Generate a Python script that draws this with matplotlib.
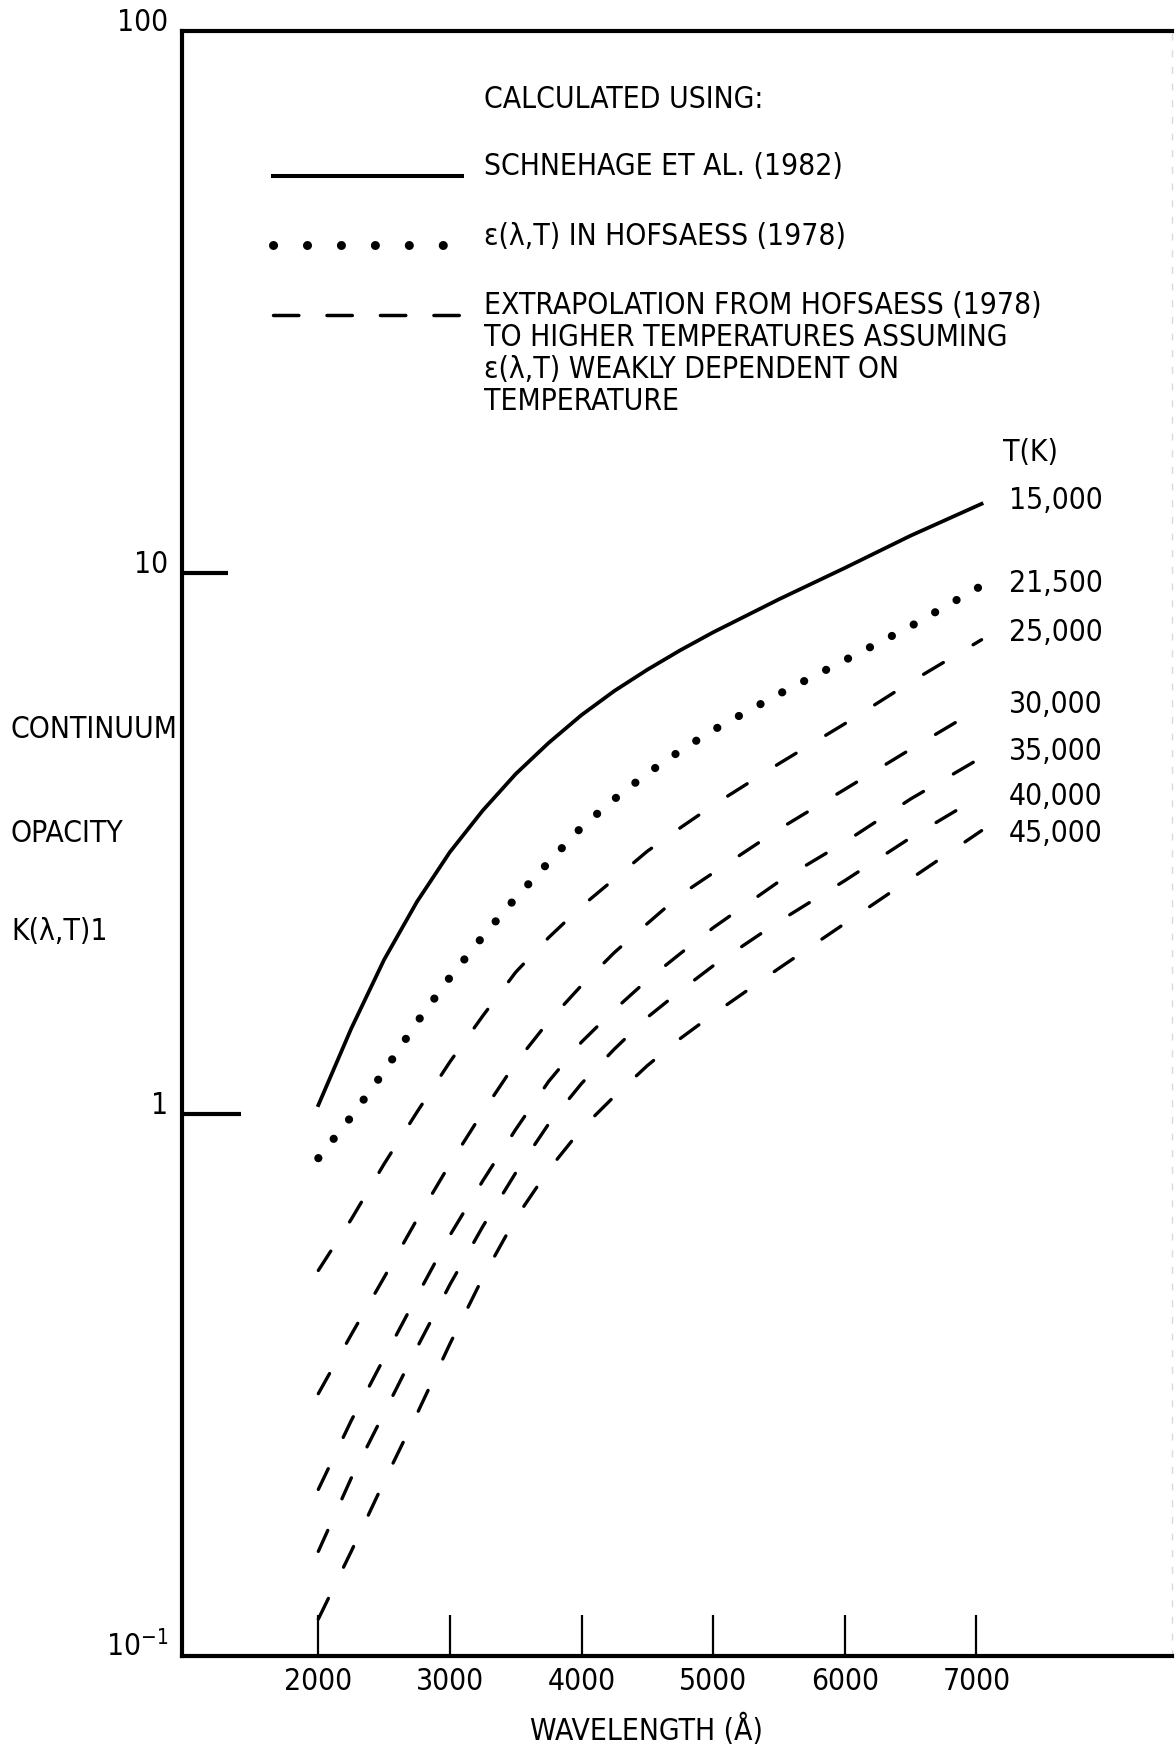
import matplotlib
matplotlib.use("Agg")
import matplotlib.pyplot as plt
from matplotlib.lines import Line2D
from matplotlib.ticker import NullLocator
from matplotlib.transforms import Affine2D

plt.rcParams['font.family'] = ['DejaVu Sans']
plt.rcParams['font.stretch'] = 'condensed'
plt.rcParams['mathtext.fontset'] = 'dejavusans'

# wavelength grid (Angstrom) and continuum opacity for each temperature
wavelength = [2000, 2250, 2500, 2750, 3000, 3250, 3500, 3750, 4000, 4250, 4500, 4750, 5000,
              5500, 6000, 6500, 7040]

k_15000 = [1.04, 1.44, 1.93, 2.47, 3.05, 3.64, 4.25, 4.85, 5.46, 6.05, 6.62, 7.19, 7.76,
           8.93, 10.2, 11.7, 13.4]
k_21500 = [0.83, 0.99, 1.20, 1.48, 1.79, 2.13, 2.51, 2.92, 3.39, 3.82, 4.26, 4.69, 5.12,
           5.97, 6.89, 7.96, 9.46]
k_25000 = [0.515, 0.64, 0.81, 1.01, 1.25, 1.52, 1.83, 2.12, 2.42, 2.72, 3.06, 3.38, 3.72,
           4.44, 5.26, 6.28, 7.52]
k_30000 = [0.305, 0.392, 0.50, 0.64, 0.81, 1.01, 1.245, 1.485, 1.73, 1.99, 2.25, 2.54, 2.79,
           3.36, 3.98, 4.72, 5.65]
k_35000 = [0.203, 0.272, 0.355, 0.462, 0.598, 0.754, 0.938, 1.15, 1.36, 1.56, 1.77, 1.98, 2.21,
           2.69, 3.18, 3.82, 4.56]
k_40000 = [0.156, 0.213, 0.281, 0.371, 0.485, 0.621, 0.78, 0.96, 1.14, 1.32, 1.51, 1.69, 1.88,
           2.27, 2.70, 3.24, 3.88]
k_45000 = [0.117, 0.156, 0.21, 0.28, 0.377, 0.50, 0.643, 0.79, 0.94, 1.08, 1.23, 1.38, 1.53,
           1.86, 2.25, 2.72, 3.34]

temp_labels = ["15,000", "21,500", "25,000", "30,000", "35,000", "40,000", "45,000"]
series = [k_15000, k_21500, k_25000, k_30000, k_35000, k_40000, k_45000]

xtick_values = [2000, 3000, 4000, 5000, 6000, 7000]
ytick_values = [0.1, 1, 10, 100]
ytick_labels = ['$\\mathregular{10^{-1}}$', '1', '10', '100']

legend_labels = ["SCHNEHAGE ET AL. (1982)",
                 "\u03b5(\u03bb,T) IN HOFSAESS (1978)",
                 "EXTRAPOLATION FROM HOFSAESS (1978)"]
legend_more = ["TO HIGHER TEMPERATURES ASSUMING",
               "\u03b5(\u03bb,T) WEAKLY DEPENDENT ON",
               "TEMPERATURE"]

FS = 21.5
W, H = 1175, 1746

fig = plt.figure(figsize=(W / 100, H / 100), dpi=100)
ax = fig.add_axes([182 / W, 1 - 1656 / H, (1172 - 182) / W, (1656 - 31) / H])

solid = dict(color='black', lw=2.7, ls='-')
dots = dict(color='black', lw=5.9, ls=(0, (0.01, 3.0)), dash_capstyle='round')
dashes = dict(color='black', lw=2.4, ls=(0, (6.9, 10.4)), dash_capstyle='round')

for i, vals in enumerate(series):
    style = solid if i == 0 else dots if i == 1 else dashes
    ax.plot(wavelength, vals, **style)

# temperature labels at the right-hand ends
label_dy = [4.5, 4, 7, 3.6, 6.7, 1.7, 0]
for vals, lab, dy in zip(series, temp_labels, label_dy):
    ax.annotate(lab, xy=(wavelength[-1], vals[-1]), xytext=(19.6, dy),
                textcoords='offset points', ha='left', va='center_baseline',
                fontsize=FS, annotation_clip=False)
ax.annotate("T(K)", xy=(wavelength[-1], k_15000[-1]), xytext=(15.5, 39),
            textcoords='offset points', ha='left', va='center_baseline',
            fontsize=FS, annotation_clip=False)

ax.set_yscale('log')
ax.set_ylim(0.1, 100)
ax.set_xlim(964, 8487)

for side in ['left', 'top', 'bottom']:
    ax.spines[side].set_linewidth(3)
ax.spines['right'].set_color('#dadada')
ax.spines['right'].set_linewidth(1)
ax.spines['right'].set_linestyle((0, (4, 8)))

ax.set_xticks(xtick_values, [str(v) for v in xtick_values])
ax.tick_params(axis='x', direction='in', length=29.5, width=1.6, pad=8, labelsize=FS)

ax.set_yticks(ytick_values, ytick_labels)
ax.yaxis.set_minor_locator(NullLocator())
ax.tick_params(axis='y', direction='in', width=3, pad=10, labelsize=FS)
yticks = ax.yaxis.get_major_ticks()
yticks[0].tick1line.set_visible(False)
yticks[3].tick1line.set_visible(False)
yticks[1].tick1line.set_markersize(42.5)
yticks[2].tick1line.set_markersize(33)
for lbl in ax.get_yticklabels():
    lbl.set_va('baseline')

ax.set_xlabel("WAVELENGTH (\u00c5)", fontsize=FS)
ax.xaxis.set_label_coords((646 - 182) / (1172 - 182), -0.0517)
ax.xaxis.label.set_va('baseline')

for txt, y in zip(["CONTINUUM", "OPACITY", "K(\u03bb,T)1"], [726, 830, 929]):
    fig.text(11 / W, 1 - y / H, txt, ha='left', va='center_baseline', fontsize=FS)

# legend block
fpx = FS * 100 / 72
handles = [Line2D([], [], color='black', lw=2.9),
           Line2D([], [], color='black', lw=6.5, ls=(0, (0.01, 3.75)), dash_capstyle='round'),
           Line2D([], [], color='black', lw=2.5, ls=(0, (7.3, 8.1)), dash_capstyle='round')]
leg = ax.legend(handles, legend_labels, loc='upper left',
                bbox_to_anchor=(273 / W, 1 - 152 / H), bbox_transform=fig.transFigure,
                frameon=False, borderpad=0, borderaxespad=0,
                handlelength=189 / fpx, handletextpad=22 / fpx,
                labelspacing=1.36, fontsize=FS)
for ln in leg.get_lines():
    ln.set_transform(Affine2D().translate(0, -8) + ln.get_transform())

fig.text(484 / W, 1 - 97 / H, "CALCULATED USING:", ha='left', va='center_baseline', fontsize=FS)
for txt, y in zip(legend_more, [334, 366, 398]):
    fig.text(484 / W, 1 - y / H, txt, ha='left', va='center_baseline', fontsize=FS)

fig.savefig("out.png", dpi=100, facecolor='white')
